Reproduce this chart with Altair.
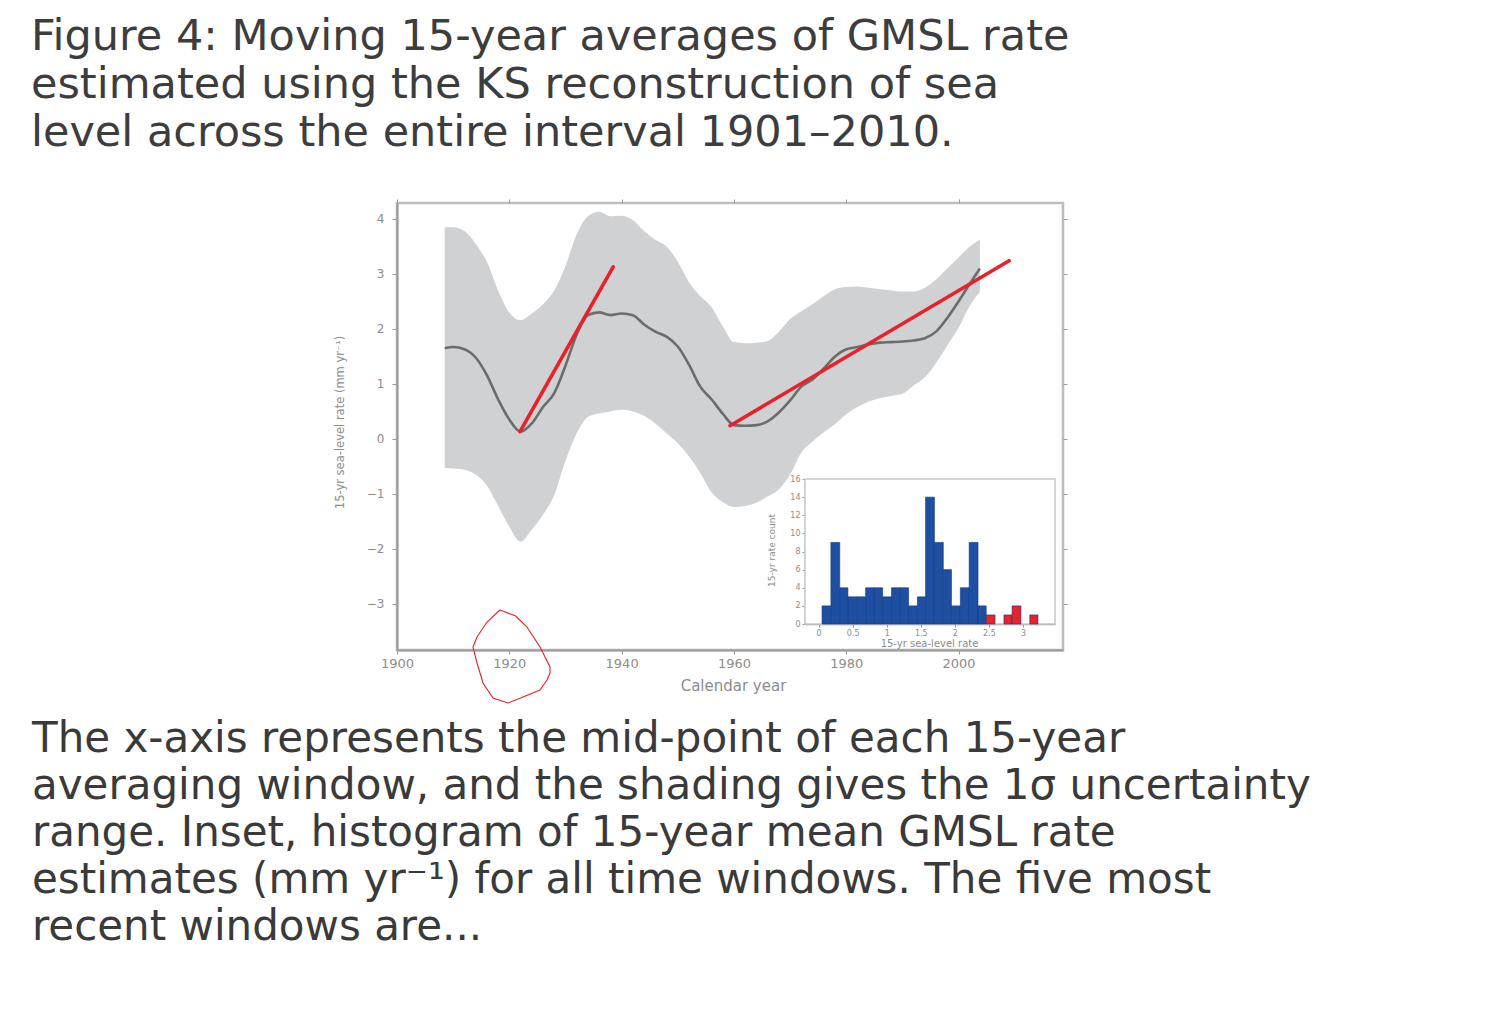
import altair as alt
import pandas as pd

# ---------------- data ----------------
years = [1908.5, 1910, 1912, 1914, 1916, 1918, 1920, 1922, 1924, 1926, 1928, 1930,
         1932, 1934, 1936, 1938, 1940, 1942, 1944, 1946, 1948, 1950, 1952, 1954,
         1956, 1958, 1960, 1962, 1964, 1966, 1968, 1970, 1972, 1974, 1976, 1978,
         1980, 1982, 1984, 1986, 1988, 1990, 1992, 1994, 1996, 1998, 2000, 2002, 2003.8]
gmsl_rate = [1.65, 1.67, 1.63, 1.48, 1.16, 0.72, 0.35, 0.13, 0.28, 0.58, 0.83, 1.33,
             1.9, 2.25, 2.3, 2.25, 2.28, 2.25, 2.08, 1.95, 1.86, 1.68, 1.35, 0.95,
             0.72, 0.46, 0.25, 0.24, 0.25, 0.32, 0.48, 0.7, 0.95, 1.08, 1.28, 1.5,
             1.63, 1.67, 1.72, 1.75, 1.76, 1.77, 1.79, 1.83, 1.95, 2.2, 2.5, 2.82, 3.1]
upper = [3.85, 3.85, 3.78, 3.55, 3.22, 2.7, 2.3, 2.16, 2.28, 2.45, 2.7, 3.15,
         3.72, 4.05, 4.13, 4.05, 4.06, 3.98, 3.78, 3.62, 3.5, 3.22, 2.85, 2.6,
         2.4, 2.05, 1.76, 1.74, 1.75, 1.78, 1.95, 2.18, 2.32, 2.45, 2.6, 2.72,
         2.76, 2.77, 2.75, 2.72, 2.7, 2.68, 2.68, 2.75, 2.9, 3.1, 3.3, 3.5, 3.62]
lower = [-0.53, -0.54, -0.56, -0.65, -0.85, -1.22, -1.6, -1.87, -1.65, -1.38, -1.02, -0.4,
         0.1, 0.4, 0.46, 0.5, 0.53, 0.5, 0.42, 0.28, 0.1, -0.08, -0.32, -0.62,
         -0.97, -1.15, -1.24, -1.22, -1.16, -1.05, -0.92, -0.65, -0.25, -0.05, 0.12, 0.27,
         0.45, 0.58, 0.68, 0.74, 0.78, 0.82, 0.97, 1.12, 1.38, 1.7, 2.02, 2.42, 2.67]

# hand-drawn red trend segments
red_segment = ["first", "first", "second", "second"]
red_year = [1921.9, 1938.5, 1959.3, 2009.0]
red_value = [0.13, 3.13, 0.24, 3.24]

# inset histogram
bin_start = [0.05, 0.18, 0.31, 0.43, 0.56, 0.69, 0.81, 0.94, 1.07, 1.19, 1.32, 1.45,
             1.57, 1.70, 1.83, 1.95, 2.08, 2.21, 2.34, 2.46, 2.59, 2.72, 2.84, 2.97, 3.10]
bin_end = [0.18, 0.31, 0.43, 0.56, 0.69, 0.81, 0.94, 1.07, 1.19, 1.32, 1.45, 1.57,
           1.70, 1.83, 1.95, 2.08, 2.21, 2.34, 2.46, 2.59, 2.72, 2.84, 2.97, 3.10, 3.22]
bin_count = [2, 9, 4, 3, 3, 4, 4, 3, 4, 4, 2, 3, 14, 9, 6, 2, 4, 9, 2,
             1, 0, 1, 2, 0, 1]
bin_group = ["earlier"] * 19 + ["recent"] * 6

x_ticks = [1900, 1920, 1940, 1960, 1980, 2000]
y_ticks = [-3, -2, -1, 0, 1, 2, 3, 4]
inset_x_ticks = [0, 0.5, 1, 1.5, 2, 2.5, 3]
inset_y_ticks = [0, 2, 4, 6, 8, 10, 12, 14, 16]

title_lines = ["Figure 4: Moving 15-year averages of GMSL rate",
               "estimated using the KS reconstruction of sea",
               "level across the entire interval 1901\u20132010."]
caption_lines = ["The x-axis represents the mid-point of each 15-year",
                 "averaging window, and the shading gives the 1\u03c3 uncertainty",
                 "range. Inset, histogram of 15-year mean GMSL rate",
                 "estimates (mm yr\u207b\u00b9) for all time windows. The five most",
                 "recent windows are..."]

# ---------------- tables ----------------
series = pd.DataFrame({"year": years, "rate": gmsl_rate, "lower": lower, "upper": upper})
reds = pd.DataFrame({"seg": red_segment, "year": red_year, "rate": red_value})
hist = pd.DataFrame({"start": bin_start, "end": bin_end, "count": bin_count, "group": bin_group})
one = pd.DataFrame({"k": [0]})

W, H = 666, 447
FONT = "DejaVu Sans"
LBL = "#8c8c8c"
AX = "#9a9a9a"


def xs():
    return alt.Scale(domain=[1900, 2018.6], nice=False, zero=False)


def ys():
    return alt.Scale(domain=[-3.84, 4.29], nice=False, zero=False)


x_axis = alt.Axis(orient="bottom", values=x_ticks, format="d", title="Calendar year", grid=False,
                  labelFlush=False, labelFont=FONT, labelFontSize=13, labelColor=LBL,
                  tickColor=AX, tickSize=4, labelPadding=3, domainColor=AX, domainWidth=2,
                  titleFont=FONT, titleFontSize=15, titleFontWeight="normal", titleColor=LBL,
                  titleX=336, titleY=35, titleBaseline="middle", titleAlign="center")
y_axis = alt.Axis(orient="left", values=y_ticks, title="15-yr sea-level rate (mm yr\u207b\u00b9)",
                  grid=False, labelFont=FONT, labelFontSize=12, labelColor=LBL,
                  tickColor=AX, tickSize=5, labelPadding=8, domainColor=AX, domainWidth=2,
                  titleFont=FONT, titleFontSize=11.5, titleFontWeight="normal", titleColor=LBL,
                  titleX=-57, titleY=219, titleBaseline="middle", titleAlign="center",
                  titleAngle=270)

band = alt.Chart(series).mark_area(color="#d0d1d3", opacity=1, interpolate="monotone").encode(
    x=alt.X("year:Q", scale=xs(), axis=x_axis),
    y=alt.Y("lower:Q", scale=ys(), axis=y_axis),
    y2="upper:Q",
)
line = alt.Chart(series).mark_line(color="#6c6c6c", strokeWidth=2.6, interpolate="monotone").encode(
    x=alt.X("year:Q", scale=xs(), axis=None),
    y=alt.Y("rate:Q", scale=ys(), axis=None),
)
# mirrored ticks on the top and right edges of the frame
mirror = alt.Chart(series).mark_line(opacity=0).encode(
    x=alt.X("year:Q", scale=xs(),
            axis=alt.Axis(orient="top", values=x_ticks, labels=False, title=None, domain=False,
                          grid=False, tickSize=4, tickColor=AX)),
    y=alt.Y("rate:Q", scale=ys(),
            axis=alt.Axis(orient="right", values=y_ticks, labels=False, title=None, domain=False,
                          grid=False, tickSize=4, tickColor=AX)),
)
red = alt.Chart(reds).mark_line(color="#e8212b", strokeWidth=3.6, strokeCap="round").encode(
    x=alt.X("year:Q", scale=xs(), axis=None),
    y=alt.Y("rate:Q", scale=ys(), axis=None),
    detail="seg:N",
)

circle_path = ("M-0.234,-0.979 L0.1,-0.85 L0.34,-0.617 L0.617,-0.191 L0.83,0.234 L0.83,0.362 "
               "L0.766,0.511 L0.617,0.723 L0.255,0.872 L-0.064,1 L-0.383,0.894 L-0.596,0.574 "
               "L-0.723,0.149 L-0.809,-0.191 L-0.723,-0.404 L-0.511,-0.723 Z")
circle = alt.Chart(one).mark_point(shape=circle_path, size=8836, filled=False,
                                   stroke="#e8212b", strokeWidth=1.1, opacity=1).encode(
    x=alt.value(114), y=alt.value(453))

title_text = alt.Chart(one).mark_text(align="left", baseline="alphabetic", font=FONT,
                                      fontSize=43, lineHeight=48, color="#3d3d3d").encode(
    x=alt.value(-366), y=alt.value(-153), text=alt.value(title_lines))
caption_text = alt.Chart(one).mark_text(align="left", baseline="alphabetic", font=FONT,
                                        fontSize=42, lineHeight=47, color="#3a3a3a").encode(
    x=alt.value(-365), y=alt.value(549), text=alt.value(caption_lines))

# ---------------- inset ----------------
ixscale = alt.Scale(domain=[-0.2, 3.47], range=[408, 658], nice=False, zero=False)
iyscale = alt.Scale(domain=[0, 16], range=[421, 276], nice=False)

ix_axis = alt.Axis(orient="bottom", offset=-26, values=inset_x_ticks, format="~g",
                   title="15-yr sea-level rate", grid=False, labelFlush=False,
                   labelFont=FONT, labelFontSize=8, labelColor=LBL, tickColor=AX, tickSize=3,
                   labelPadding=2, domainColor=AX, domainWidth=1.5,
                   titleFont=FONT, titleFontSize=10, titleFontWeight="normal", titleColor=LBL,
                   titleX=532, titleY=19, titleBaseline="middle", titleAlign="center")
iy_axis = alt.Axis(orient="left", offset=-408, values=inset_y_ticks, title="15-yr rate count",
                   grid=False, labelFont=FONT, labelFontSize=8, labelColor=LBL, tickColor=AX,
                   tickSize=3, labelPadding=2, domainColor=AX, domainWidth=1.5,
                   titleFont=FONT, titleFontSize=9, titleFontWeight="normal", titleColor=LBL,
                   titleX=-34, titleY=347, titleBaseline="middle", titleAlign="center",
                   titleAngle=270)

frame = alt.Chart(one).mark_rect(fill="white", stroke="#c8c8c8", strokeWidth=1.5).encode(
    x=alt.value(408), x2=alt.value(658), y=alt.value(276), y2=alt.value(421))
bars = alt.Chart(hist).transform_filter("datum.count > 0").mark_bar(
    stroke="#0b3b8c", strokeWidth=0.6, opacity=1).encode(
    x=alt.X("start:Q", scale=ixscale, axis=ix_axis),
    x2="end:Q",
    y=alt.Y("count:Q", scale=iyscale, axis=iy_axis),
    y2=alt.datum(0),
    color=alt.Color("group:N", scale=alt.Scale(domain=["earlier", "recent"],
                                               range=["#1f4fa0", "#e8232b"]), legend=None),
)

chart = alt.layer(band, line, mirror, red, circle, title_text, caption_text, frame, bars).resolve_scale(
    x="independent", y="independent").properties(
    width=W, height=H,
    padding={"left": 389, "top": 195, "right": 337, "bottom": 310},
    autosize=alt.AutoSizeParams(type="none"),
    background="white",
).configure_view(stroke="#bdbdbd", strokeWidth=2.5)

chart.save("out.html", embed_options={"renderer": "svg", "actions": False})
